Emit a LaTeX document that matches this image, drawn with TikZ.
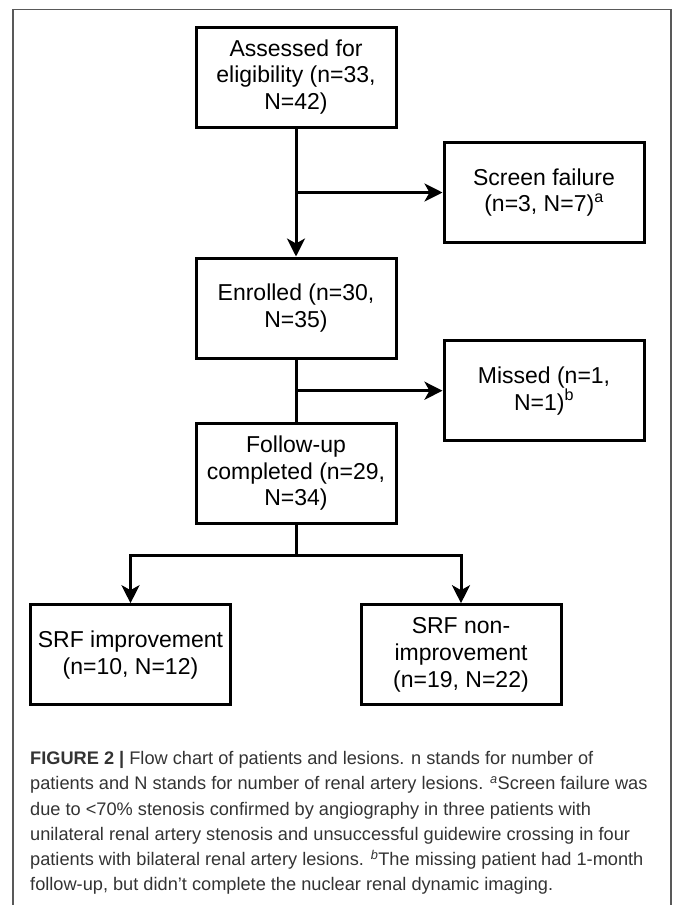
\documentclass[tikz,border=0pt]{standalone}
\usepackage{fontspec}
\setmainfont{Liberation Sans}
\usepackage{tikz}
\usetikzlibrary{arrows.meta, positioning}
\tikzset{
  box/.style={draw, line width=3pt, minimum width=200pt, minimum height=100pt,
    align=center, inner sep=0pt, font=\fontsize{23}{26.7}\selectfont},
  link/.style={line width=3pt},
  arr/.style={line width=3pt, -{Stealth[length=18pt,width=18pt,inset=5pt]}},
}

\begin{document}
\begin{tikzpicture}[x=1pt,y=-1pt]
\useasboundingbox (0,0) rectangle (673,905);
\draw[black!65, line width=1.5pt] (13,905) -- (13,9.5) -- (671,9.5) -- (671,905);

\node[box] (assessed) at (296,77) {Assessed for\\eligibility (n=33,\\N=42)};
\node[box] (screen) at (544,192.5) {Screen failure\\(n=3, N=7)\textsuperscript{a}};
\node[box] (enrolled) at (296,308) {Enrolled (n=30,\\N=35)};
\node[box] (missed) at (544,390.7) {Missed (n=1,\\N=1)\textsuperscript{b}};
\node[box] (followup) at (296,473.3) {Follow-up\\completed (n=29,\\N=34)};
\node[box] (improve) at (130.5,654.7) {SRF improvement\\(n=10, N=12)};
\node[box] (nonimprove) at (461,654.7) {SRF non-\\improvement\\(n=19, N=22)};
\coordinate (split) at (296,555.7);

\draw[arr] (assessed) -- (enrolled);
\draw[arr] (assessed.south |- screen.west) -- (screen);
\draw[link] (enrolled) -- (followup);
\draw[arr] (enrolled.south |- missed.west) -- (missed);
\draw[link] (followup) -- (split);
\draw[arr] (split) -| (improve);
\draw[arr] (split) -| (nonimprove);

\node[anchor=north west, align=left, inner sep=0pt, text=black!80,
  font=\fontsize{18.2}{25.1}\selectfont] (caption) at (30,751.5)
  {\textbf{FIGURE 2 |} Flow chart of patients and lesions. n stands for number of\\
   patients and N stands for number of renal artery lesions. \textsuperscript{\itshape a}Screen failure was\\
   due to <70\% stenosis confirmed by angiography in three patients with\\
   unilateral renal artery stenosis and unsuccessful guidewire crossing in four\\
   patients with bilateral renal artery lesions. \textsuperscript{\itshape b}The missing patient had 1-month\\
   follow-up, but didn’t complete the nuclear renal dynamic imaging.};
\end{tikzpicture}
\end{document}
